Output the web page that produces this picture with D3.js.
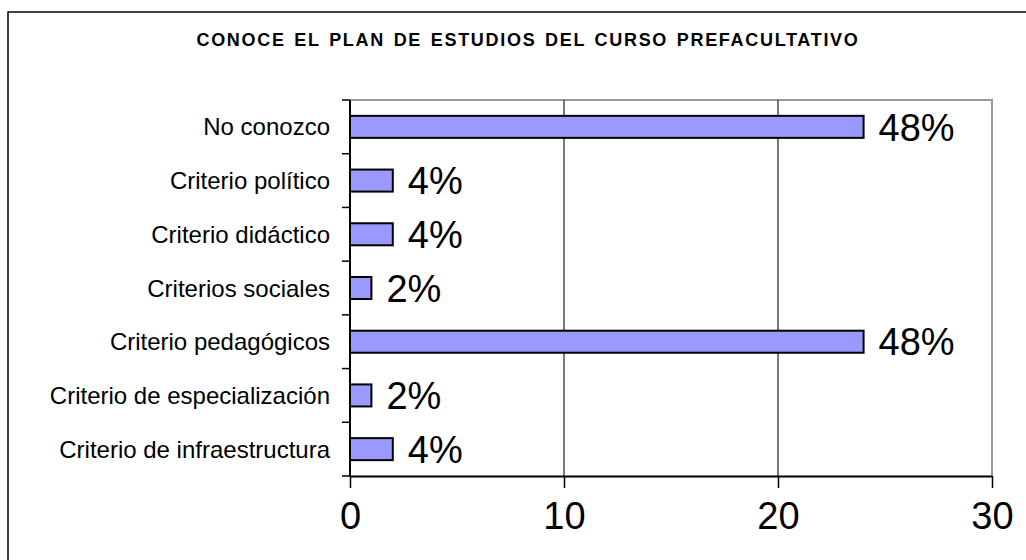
<!DOCTYPE html>
<html>
<head>
<meta charset="utf-8">
<script src="https://cdn.jsdelivr.net/npm/d3@7"></script>
<style>
  html, body { margin: 0; background: #fff; overflow: hidden; }
  svg { display: block; }
  svg text { font-family: "Liberation Sans", Arial, sans-serif; fill: #000; }
</style>
</head>
<body>
<div id="chart"></div>
<script>
'use strict';

// Chart data
var categories = ['No conozco', 'Criterio político', 'Criterio didáctico', 'Criterios sociales',
    'Criterio pedagógicos', 'Criterio de especialización', 'Criterio de infraestructura'];
var counts = [24, 2, 2, 1, 24, 1, 2];
var percentLabels = ['48%', '4%', '4%', '2%', '48%', '2%', '4%'];
var xTicks = [0, 10, 20, 30];
var chartTitle = 'CONOCE EL PLAN DE ESTUDIOS DEL CURSO PREFACULTATIVO';

var width = 1026, height = 560;
var plot = { left: 350, right: 992, top: 100, bottom: 476 };

var svg = d3.select('#chart').append('svg')
    .attr('width', width)
    .attr('height', height);

// Outer frame, cut by the window at right and bottom
svg.append('line')
    .attr('x1', 8).attr('x2', 8)
    .attr('y1', 11.25).attr('y2', height)
    .attr('stroke', '#000')
    .attr('stroke-width', 1.5);
svg.append('line')
    .attr('x1', 8).attr('x2', width)
    .attr('y1', 12).attr('y2', 12)
    .attr('stroke', '#000')
    .attr('stroke-width', 1.5);

svg.append('text')
    .attr('x', 528).attr('y', 46)
    .attr('text-anchor', 'middle')
    .style('font-size', '18px')
    .style('font-weight', 'bold')
    .style('letter-spacing', '1.7px')
    .style('word-spacing', '2px')
    .text(chartTitle);

var x = d3.scaleLinear().domain([0, 30]).range([plot.left, plot.right]);
var y = d3.scaleBand().domain(categories)
    .range([plot.top, plot.bottom])
    .paddingInner(0.59).paddingOuter(0.295);

// Plot border (top, right)
svg.append('path')
    .attr('d', 'M' + plot.left + ',' + plot.top + 'H' + plot.right + 'V' + plot.bottom)
    .attr('fill', 'none')
    .attr('stroke', '#999')
    .attr('stroke-width', 2);

// Gridlines
svg.append('g').selectAll('line')
    .data(xTicks.filter(function(d) { return d > 0 && d < 30; }))
    .enter().append('line')
    .attr('x1', x).attr('x2', x)
    .attr('y1', plot.top).attr('y2', plot.bottom)
    .attr('stroke', '#222')
    .attr('stroke-width', 1.2);

// Bars
svg.append('g').selectAll('rect')
    .data(categories)
    .enter().append('rect')
    .attr('x', x(0))
    .attr('y', function(d) { return y(d); })
    .attr('width', function(d, i) { return x(counts[i]) - x(0); })
    .attr('height', y.bandwidth())
    .attr('fill', '#9999ff')
    .attr('stroke', '#000')
    .attr('stroke-width', 2);

// Percent labels
svg.append('g').selectAll('text')
    .data(categories)
    .enter().append('text')
    .attr('x', function(d, i) { return x(counts[i]) + 15; })
    .attr('y', function(d) { return y(d) + y.bandwidth() / 2; })
    .attr('dy', '0.36em')
    .style('font-size', '38px')
    .text(function(d, i) { return percentLabels[i]; });

// Left axis: line, boundary ticks, category labels
var leftAxis = svg.append('g');
leftAxis.append('line')
    .attr('x1', plot.left).attr('x2', plot.left)
    .attr('y1', plot.top).attr('y2', plot.bottom)
    .attr('stroke', '#000').attr('stroke-width', 2);
leftAxis.selectAll('.tick')
    .data(d3.range(categories.length + 1))
    .enter().append('line')
    .attr('class', 'tick')
    .attr('x1', plot.left - 8).attr('x2', plot.left)
    .attr('y1', function(i) { return plot.top + i * y.step(); })
    .attr('y2', function(i) { return plot.top + i * y.step(); })
    .attr('stroke', '#000').attr('stroke-width', 1.5);
leftAxis.selectAll('.catLabel')
    .data(categories)
    .enter().append('text')
    .attr('class', 'catLabel')
    .attr('x', plot.left - 20)
    .attr('y', function(d) { return y(d) + y.bandwidth() / 2; })
    .attr('dy', '0.36em')
    .attr('text-anchor', 'end')
    .style('font-size', '24px')
    .text(function(d) { return d; });

// Bottom axis
var bottomAxis = svg.append('g')
    .attr('transform', 'translate(0,' + plot.bottom + ')')
    .call(d3.axisBottom(x).tickValues(xTicks).tickSize(12).tickSizeOuter(0).tickPadding(14));
bottomAxis.select('.domain').attr('stroke', '#000').attr('stroke-width', 2);
bottomAxis.selectAll('.tick line').attr('stroke', '#000').attr('stroke-width', 1.5);
bottomAxis.selectAll('.tick text')
    .style('font-size', '38px')
    .style('font-family', '"Liberation Sans", Arial, sans-serif')
    .attr('fill', '#000');
</script>
</body>
</html>
